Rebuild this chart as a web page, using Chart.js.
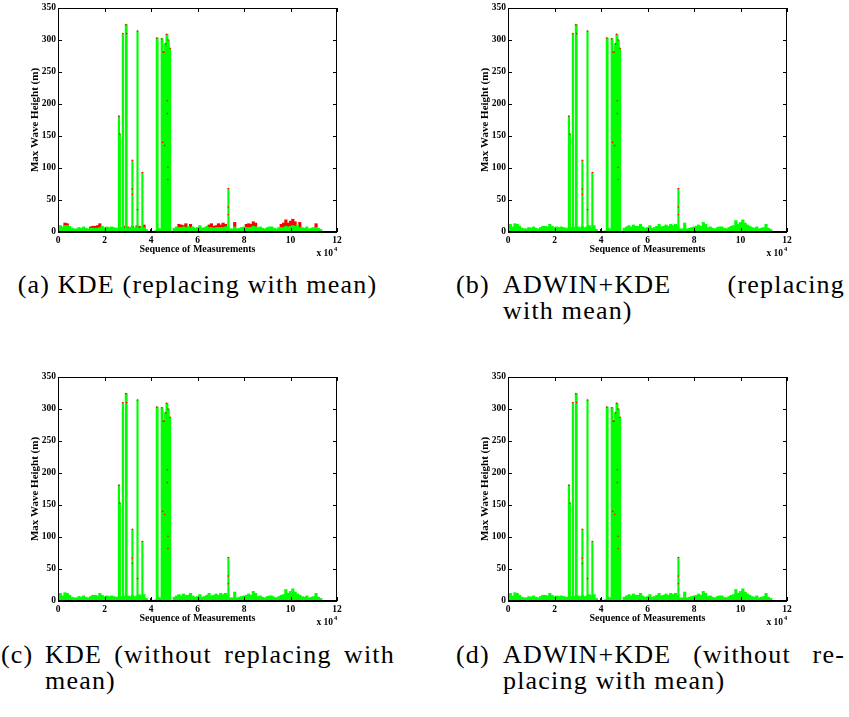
<!DOCTYPE html>
<html>
<head>
<meta charset="utf-8">
<script src="https://cdn.jsdelivr.net/npm/chart.js@4.4.1/dist/chart.umd.min.js"></script>
<style>
	body { margin: 0; background: #fff; width: 849px; height: 717px; position: relative; overflow: hidden; }
	.panel { position: absolute; width: 345px; height: 265px; }
	.cap { position: absolute; font-family: 'Liberation Serif', 'Times New Roman', serif; font-size: 26px; line-height: 26px; color: #000; white-space: nowrap; letter-spacing: 1.2px; }
	.just { display: flex; justify-content: space-between; }
</style>
</head>
<body>
<div class="panel" style="left:0px;top:0px"><canvas id="chartA"></canvas></div>
<div class="panel" style="left:450px;top:0px"><canvas id="chartB"></canvas></div>
<div class="panel" style="left:0px;top:369px"><canvas id="chartC"></canvas></div>
<div class="panel" style="left:450px;top:369px"><canvas id="chartD"></canvas></div>

<div class="cap" style="left:0px;top:272px;width:395px;text-align:center">(a) KDE (replacing with mean)</div>

<div class="cap" style="left:456px;top:272px">(b)</div>
<div class="cap just" style="left:503px;top:272px;width:342px"><span>ADWIN+KDE</span><span>(replacing</span></div>
<div class="cap" style="left:503px;top:298px">with mean)</div>

<div class="cap" style="left:1px;top:642px">(c)</div>
<div class="cap just" style="left:45px;top:642px;width:350px"><span>KDE</span><span>(without</span><span>replacing</span><span>with</span></div>
<div class="cap" style="left:45px;top:668px">mean)</div>

<div class="cap" style="left:456px;top:642px">(d)</div>
<div class="cap just" style="left:503px;top:642px;width:342px"><span>ADWIN+KDE</span><span>(without</span><span>re-</span></div>
<div class="cap" style="left:503px;top:668px">placing with mean)</div>

<script>
// x ticks / y ticks
const xTickVals = [0, 20000, 40000, 60000, 80000, 100000, 120000]
const xTickLabels = ['0', '2', '4', '6', '8', '10', '12']
const yTicks = [0, 50, 100, 150, 200, 250, 300, 350]

// background measurements, one bar per 1000 samples (0 .. 113000)
const seqStep = 1000
const greenFull = [
	9, 12, 8, 13, 12, 9, 6, 5, 5, 7,
	6, 8, 6, 5, 7, 9, 9, 8, 12, 9,
	7, 8, 7, 8, 7, 6, 6, 7, 6, 8,
	8, 7, 9, 7, 8, 10, 8, 10, 4, 1,
	1, 1, 2, 6, 5, 7, 6, 8, 5, 0,
	6, 8, 10, 8, 11, 9, 9, 12, 8, 6,
	7, 10, 6, 7, 9, 12, 8, 9, 11, 9,
	12, 10, 12, 9, 5, 5, 14, 5, 6, 7,
	8, 9, 11, 9, 15, 12, 7, 8, 6, 5,
	7, 8, 8, 6, 5, 7, 9, 10, 18, 12,
	15, 19, 14, 11, 9, 7, 6, 8, 5, 6,
	7, 12, 6, 4
]
// panel (a): values after replacing with mean
const greenMean = [
	7, 10, 8, 10, 10, 9, 6, 5, 5, 7,
	6, 8, 6, 5, 6, 6, 6, 6, 7, 9,
	7, 8, 7, 8, 7, 6, 6, 7, 6, 6,
	6, 7, 6, 7, 6, 6, 8, 7, 4, 1,
	1, 1, 2, 6, 5, 7, 6, 8, 5, 0,
	6, 8, 7, 7, 8, 7, 9, 7, 8, 6,
	7, 10, 6, 7, 9, 7, 7, 6, 7, 7,
	7, 7, 8, 9, 5, 5, 8, 5, 6, 7,
	8, 7, 7, 7, 9, 8, 7, 8, 6, 5,
	7, 8, 8, 6, 5, 7, 7, 7, 9, 8,
	9, 10, 9, 11, 7, 7, 6, 8, 5, 6,
	7, 7, 6, 4
]
// panel (a): original values showing above the mean-replaced ones
const rawAt = [0, 3, 4, 14, 15, 16, 17, 18, 29, 30, 32, 34, 35, 37, 52, 53, 54, 55, 57, 65, 66, 67, 68, 69, 70, 71, 72, 76, 81, 82, 83, 84, 85, 96, 97, 98, 99, 100, 101, 102, 104, 111]
const rawVal = [10, 14, 13, 8, 9, 9, 10, 13, 9, 8, 9, 10, 9, 11, 12, 11, 10, 13, 12, 11, 13, 9, 10, 13, 11, 14, 12, 15, 12, 13, 12, 16, 14, 12, 14, 19, 14, 17, 20, 16, 15, 13]

// tall outliers
const spikeAt = [26200, 26600, 27900, 29200, 29500, 32000, 34200, 36300, 42500, 42800,
	44600, 44900, 45200, 45500, 45800, 46100, 46400, 46700, 47000, 47300, 47600, 47900, 48200, 73300]
const spikeVal = [181, 153, 310, 324, 324, 112, 314, 93, 303, 303,
	302, 302, 281, 281, 281, 294, 294, 309, 309, 300, 300, 287, 287, 68]

// detected anomalies (red marks)
const anomalyAt = [26200, 26600, 27900, 29200, 29500, 32000, 32000, 32000, 34200, 34200, 36300, 42500,
	44600, 45000, 45200, 45600, 45900, 46300, 46700, 47000, 47000, 47300, 47300, 47300, 48200, 73300, 73300, 73300]
const anomalyVal = [181, 153, 310, 324, 310, 112, 67, 59, 314, 35, 93, 303,
	302, 140, 281, 281, 135, 294, 309, 205, 185, 300, 101, 82, 287, 68, 39, 27]

const blackAt = [40000]
const blackVal = [3]

const toPoints = (at, val, step) => at.map((v, i) => ({ x: v * step, y: val[i] }))
const seqPoints = (vals) => vals.map((v, i) => ({ x: i * seqStep, y: v }))

Chart.defaults.font.family = "'Liberation Serif', serif"
Chart.defaults.font.weight = 'bold'
Chart.defaults.font.size = 9.5
Chart.defaults.color = '#000'

const frame = {
	id: 'frame',
	afterDraw(chart) {
		const { ctx, chartArea: a, scales } = chart
		ctx.save()
		ctx.strokeStyle = '#000'
		ctx.lineWidth = 1
		ctx.strokeRect(a.left + 0.5, a.top + 0.5, a.right - a.left - 1, a.bottom - a.top)
		ctx.lineWidth = 2
		ctx.beginPath()
		ctx.moveTo(a.left, a.bottom)
		ctx.lineTo(a.right, a.bottom)
		ctx.stroke()
		ctx.lineWidth = 1
		ctx.beginPath()
		yTicks.forEach((v) => {
			const py = Math.round(scales.y.getPixelForValue(v)) + 0.5
			ctx.moveTo(a.left, py)
			ctx.lineTo(a.left + 4, py)
			ctx.moveTo(a.right, py)
			ctx.lineTo(a.right - 4, py)
		})
		xTickVals.forEach((v) => {
			const px = Math.round(scales.x.getPixelForValue(v)) + 0.5
			ctx.moveTo(px, a.bottom)
			ctx.lineTo(px, a.bottom - 4)
			ctx.moveTo(px, a.top)
			ctx.lineTo(px, a.top + 4)
		})
		ctx.stroke()
		ctx.fillStyle = '#000'
		ctx.font = "bold 9.5px 'Liberation Serif'"
		ctx.textAlign = 'right'
		ctx.textBaseline = 'alphabetic'
		ctx.fillText('x 10', a.right - 4, a.bottom + 24)
		ctx.font = "bold 6.5px 'Liberation Serif'"
		ctx.textAlign = 'left'
		ctx.fillText('4', a.right - 3, a.bottom + 19)
		ctx.restore()
	},
}

const makeChart = (id, green, raw) => {
	const datasets = [
		{
			type: 'scatter',
			data: toPoints(anomalyAt, anomalyVal, 1),
			backgroundColor: '#ff0000',
			pointRadius: 0.8,
			borderWidth: 0,
			order: 0,
		},
		{
			type: 'scatter',
			data: toPoints(blackAt, blackVal, 1),
			backgroundColor: '#000',
			pointRadius: 1.2,
			borderWidth: 0,
			order: 0,
		},
		{
			data: toPoints(spikeAt, spikeVal, 1),
			backgroundColor: '#00ff00',
			barThickness: 1.5,
			order: 1,
		},
		{
			data: seqPoints(green),
			backgroundColor: '#00ff00',
			barThickness: 2.5,
			order: 2,
		},
	]
	if (raw) {
		datasets.push({
			data: toPoints(rawAt, rawVal, seqStep),
			backgroundColor: '#ff0000',
			barThickness: 2.5,
			order: 3,
		})
	}
	new Chart(document.getElementById(id), {
		type: 'bar',
		data: { datasets },
		plugins: [frame],
		options: {
			animation: false,
			responsive: true,
			maintainAspectRatio: false,
			events: [],
			layout: { padding: { top: 8, right: 8, left: 0, bottom: 0 } },
			datasets: { bar: { grouped: false, borderWidth: 0, barPercentage: 1, categoryPercentage: 1 } },
			scales: {
				x: {
					type: 'linear',
					min: 0,
					max: 120000,
					offset: false,
					grid: { display: false, drawTicks: false },
					border: { display: false },
					afterBuildTicks: (s) => { s.ticks = xTickVals.map((v) => ({ value: v })) },
					afterFit: (s) => { s.height = 33 },
					ticks: {
						padding: 3,
						maxRotation: 0,
						autoSkip: false,
						callback: (v, i) => xTickLabels[i],
					},
					title: {
						display: true,
						text: 'Sequence of Measurements',
						font: { size: 10, weight: 'bold' },
						padding: { top: 0, bottom: 9.5 },
					},
				},
				y: {
					min: 0,
					max: 350,
					grid: { display: false, drawTicks: false },
					border: { display: false },
					afterBuildTicks: (s) => { s.ticks = yTicks.map((v) => ({ value: v })) },
					afterFit: (s) => { s.width = 58 },
					ticks: { padding: 2, autoSkip: false },
					title: {
						display: true,
						text: 'Max Wave Height (m)',
						font: { size: 11, weight: 'bold' },
						padding: { top: 28.5, bottom: 0 },
					},
				},
			},
			plugins: {
				legend: { display: false },
				tooltip: { enabled: false },
			},
		},
	})
}

makeChart('chartA', greenMean, true)
makeChart('chartB', greenFull, false)
makeChart('chartC', greenFull, false)
makeChart('chartD', greenFull, false)
</script>
</body>
</html>
